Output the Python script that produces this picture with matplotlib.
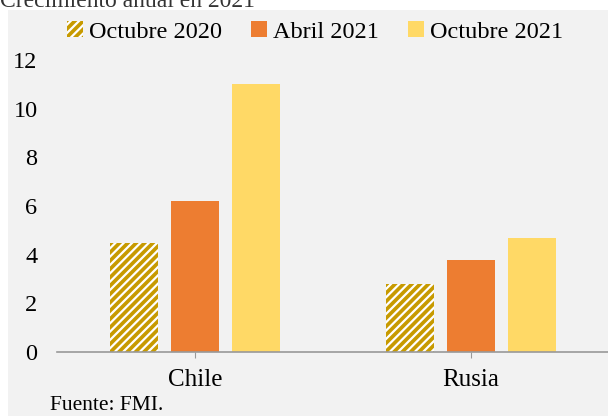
import matplotlib

matplotlib.use("Agg")
import matplotlib.pyplot as plt
import numpy as np
from matplotlib.patches import Patch, Rectangle

countries = ["Chile", "Rusia"]
series_names = ["Octubre 2020", "Abril 2021", "Octubre 2021"]
oct_2020 = [4.5, 2.8]
abr_2021 = [6.2, 3.8]
oct_2021 = [11.0, 4.7]
y_ticks = [0, 2, 4, 6, 8, 10, 12]

GOLD = "#c79a00"
ORANGE = "#ed7d31"
YELLOW = "#ffd966"
PANEL = "#f2f2f2"

plt.rcParams["font.family"] = ["Liberation Serif", "DejaVu Serif"]
plt.rcParams["hatch.linewidth"] = 1.6

fig = plt.figure(figsize=(6.08, 4.16), dpi=100)
fig.patch.set_facecolor("white")

# grey panel behind the chart
fig.add_artist(Rectangle((8 / 608, 0), 1, 1 - 10 / 416, transform=fig.transFigure,
                         facecolor=PANEL, edgecolor="none", zorder=0))
fig.text(0.0, 1 - 7 / 416, "Crecimiento anual en 2021", fontsize=17,
         color="#333333", va="baseline", ha="left")

ax = fig.add_axes([57 / 608, 64 / 416, 552 / 608, 292 / 416])
ax.set_facecolor(PANEL)

x = np.arange(len(countries))
width = 0.174
step = 0.221

ax.bar(x - step, oct_2020, width, color=GOLD, edgecolor="white", linewidth=0,
       hatch="////", zorder=2)
ax.bar(x, abr_2021, width, color=ORANGE, linewidth=0, zorder=2)
ax.bar(x + step, oct_2021, width, color=YELLOW, linewidth=0, zorder=2)

ax.set_xlim(-0.5, 1.5)
ax.set_ylim(0, 12)
ax.set_yticks(y_ticks)
ax.set_yticklabels([str(t) for t in y_ticks], fontsize=17.5)
ax.tick_params(axis="y", length=0, pad=14)
ax.set_xticks(x)
ax.set_xticklabels(countries, fontsize=18)
ax.tick_params(axis="x", length=4, color="#999999", pad=8)

for side in ["left", "right", "top"]:
    ax.spines[side].set_visible(False)
ax.spines["bottom"].set_color("#999999")
ax.spines["bottom"].set_linewidth(1.2)

handles = [
    Patch(facecolor=GOLD, edgecolor="white", linewidth=0, hatch="////"),
    Patch(facecolor=ORANGE, linewidth=0),
    Patch(facecolor=YELLOW, linewidth=0),
]
fig.legend(handles, series_names, loc="center", bbox_to_anchor=(315 / 608, 1 - 32 / 416),
           ncol=3, frameon=False, fontsize=17.5, handlelength=0.65, handleheight=0.65,
           handletextpad=0.25, columnspacing=1.2)

fig.text(50 / 608, 1 - 405 / 416, "Fuente: FMI.", fontsize=15.5, va="center", ha="left")

fig.savefig("out.png", dpi=100)
